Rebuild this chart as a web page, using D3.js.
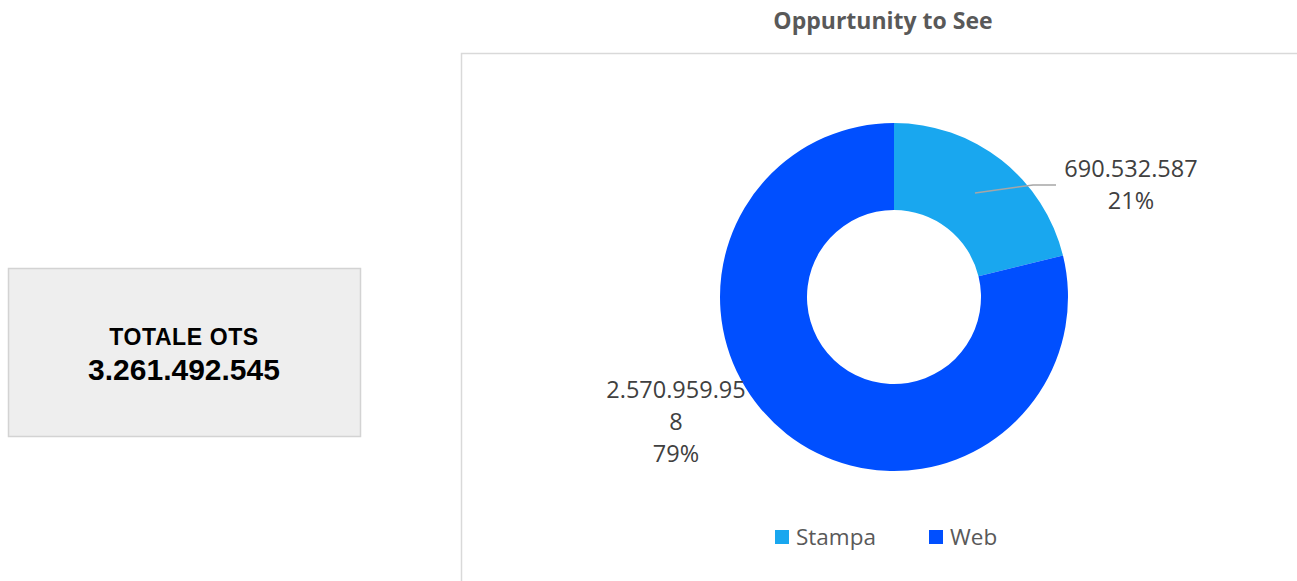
<!DOCTYPE html>
<html><head><meta charset="utf-8">
<script src="https://cdn.jsdelivr.net/npm/d3@7"></script>
<style>html,body{margin:0;padding:0;background:#fff;}svg{display:block;}</style>
</head><body>
<svg id="c" width="1297" height="581"></svg>
<script>
const categories = ["Stampa", "Web"];
const values = [690532587, 2570959958];
const colors = ["#19A7EF", "#004FFF"];
const totalLabel = "TOTALE OTS";
const title = "Oppurtunity to See";

const fmt = v => d3.format(",")(v).replace(/,/g, ".");
const total = d3.sum(values);

const svg = d3.select("#c");

// left total box
svg.append("rect").attr("x", 8.5).attr("y", 268.5).attr("width", 352).attr("height", 168)
  .attr("fill", "#eeeeee").attr("stroke", "#d3d3d3").attr("stroke-width", 1.5);
svg.append("text").attr("x", 184).attr("y", 345).attr("text-anchor", "middle")
  .attr("font-family", "Liberation Sans, Arial").attr("font-weight", "bold").attr("font-size", 23)
  .attr("letter-spacing", 0.6).attr("fill", "#000").text(totalLabel);
svg.append("text").attr("x", 184).attr("y", 380).attr("text-anchor", "middle")
  .attr("font-family", "Liberation Sans, Arial").attr("font-weight", "bold").attr("font-size", 30)
  .attr("fill", "#000").text(fmt(total));

// chart frame
svg.append("path").attr("d", "M461.5,581 V53.5 H1297").attr("fill", "none")
  .attr("stroke", "#d9d9d9").attr("stroke-width", 1.5);

svg.append("text").attr("x", 883).attr("y", 29).attr("text-anchor", "middle")
  .attr("font-family", "Open Sans").attr("font-weight", "bold").attr("font-size", 23)
  .attr("fill", "#595959").text(title);

const cx = 894, cy = 297, R = 174, r = 87;
const pie = d3.pie().sort(null).value(d => d)(values);
const arc = d3.arc().innerRadius(r).outerRadius(R);
const g = svg.append("g").attr("transform", `translate(${cx},${cy})`);
g.selectAll("path").data(pie).join("path").attr("d", arc).attr("fill", (d, i) => colors[i]);

// leader line for Stampa
svg.append("polyline").attr("points", "975,193 1033,185 1056,185").attr("fill", "none")
  .attr("stroke", "#a6a6a6").attr("stroke-width", 1.5);

const lab = (x, y, t) => svg.append("text").attr("x", x).attr("y", y).attr("text-anchor", "middle")
  .attr("font-family", "Open Sans").attr("font-size", 23.5).attr("fill", "#404040").text(t);
const pct = v => Math.round(v / total * 100) + "%";
lab(1131, 177, fmt(values[0]));
lab(1131, 209, pct(values[0]));
const w = fmt(values[1]);
lab(676, 398, w.slice(0, -1));
lab(676, 430, w.slice(-1));
lab(676, 462, pct(values[1]));

// legend
const leg = svg.append("g");
const lx = [775, 929];
categories.forEach((c, i) => {
  leg.append("rect").attr("x", lx[i]).attr("y", 530).attr("width", 14).attr("height", 14).attr("fill", colors[i]);
  leg.append("text").attr("x", lx[i] + 21).attr("y", 545).attr("font-family", "Open Sans")
    .attr("font-size", 22.5).attr("fill", "#595959").text(c);
});
</script>
</body></html>
